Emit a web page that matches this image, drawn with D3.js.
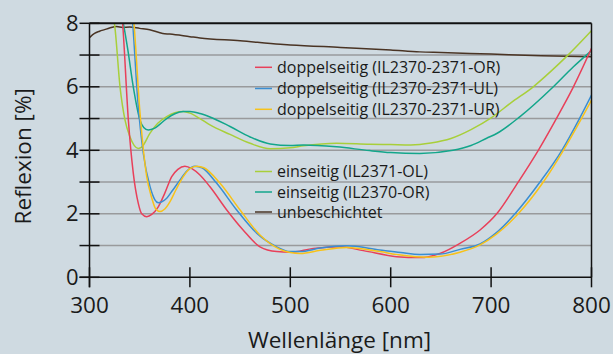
<!DOCTYPE html>
<html lang="de">
<head>
<meta charset="UTF-8">
<title>Reflexion</title>
<script src="https://d3js.org/d3.v7.min.js"></script>
<style>
    html, body { margin: 0; padding: 0; background: #cfdae1; }
    svg text { font-family: "Open Sans", "Noto Sans", sans-serif; fill: #1a1a1a; }
</style>
</head>
<body>
<svg id="chart" width="613" height="354"></svg>
<script>
// wavelength [nm] / reflection [%] pairs
const xTicks = [300, 400, 500, 600, 700, 800];
const yTicks = [0, 2, 4, 6, 8];
const yMinor = [1, 3, 5, 7];

const redNm  = [328, 333, 338.7, 343.6, 348.6, 352, 357, 362, 368.5, 375, 381.9, 388, 395, 402, 410, 420, 436.7, 453, 469.8, 486.5, 499.7, 523, 549.5, 572.7, 606, 629, 649, 669, 689, 705.6, 727, 747, 765, 782, 800];
const redR   = [9.5, 8.0, 4.95, 3.28, 2.33, 2.0, 1.91, 1.98, 2.22, 2.65, 3.17, 3.4, 3.5, 3.42, 3.22, 2.85, 2.12, 1.49, 0.96, 0.81, 0.79, 0.91, 0.96, 0.84, 0.65, 0.62, 0.75, 1.07, 1.49, 2.0, 3.0, 4.0, 5.0, 6.0, 7.21];

const blueNm = [338, 343, 348, 353.6, 360.3, 365, 368.5, 372, 376.9, 383, 390, 397, 405, 412, 426.7, 446.6, 466.5, 486.5, 499.7, 509.7, 530, 556, 589, 610, 629, 649, 669, 689, 705, 723.8, 748.7, 770.5, 788, 800];
const blueR  = [9.5, 8.0, 5.6, 3.9, 2.85, 2.45, 2.35, 2.38, 2.49, 2.75, 3.06, 3.35, 3.5, 3.45, 2.96, 2.12, 1.39, 0.96, 0.81, 0.81, 0.92, 0.99, 0.86, 0.78, 0.72, 0.73, 0.88, 1.05, 1.4, 2.0, 3.0, 4.0, 5.0, 5.74];

const yellowNm = [339, 344.3, 350, 357, 362, 366, 370.2, 375, 380.2, 386, 393.4, 400, 406.8, 414, 430, 450, 469.8, 489.7, 500, 510, 530, 556, 589, 610, 636, 650, 669, 689, 705, 727, 752, 772, 790, 800];
const yellowR  = [9.5, 8.0, 5.3, 3.17, 2.5, 2.15, 2.07, 2.15, 2.38, 2.75, 3.17, 3.42, 3.5, 3.45, 2.96, 2.12, 1.33, 0.88, 0.78, 0.75, 0.85, 0.94, 0.81, 0.7, 0.63, 0.66, 0.79, 1.02, 1.35, 2.0, 3.0, 4.0, 5.0, 5.58];

const greenNm = [318, 322, 325, 330.4, 335.4, 340, 348.6, 352, 360.3, 368, 376.9, 385, 393.4, 400, 410, 420, 440, 460, 480, 500, 513, 546, 579, 600, 620, 640, 660, 680, 700, 720, 742, 760, 775, 800];
const greenR  = [9.0, 8.4, 7.95, 6.0, 4.95, 4.45, 4.06, 4.1, 4.54, 4.85, 5.06, 5.18, 5.22, 5.17, 5.0, 4.8, 4.5, 4.22, 4.05, 4.08, 4.14, 4.22, 4.19, 4.18, 4.17, 4.23, 4.37, 4.65, 5.02, 5.5, 6.0, 6.5, 6.95, 7.77];

const tealNm = [328, 331, 333.7, 338, 343.6, 350.3, 354, 358.6, 365, 376.9, 385, 393.4, 400, 410, 420, 440, 460, 480, 500, 513, 546, 579, 600, 629, 662, 680, 695.6, 705.6, 728.8, 762, 782, 800];
const tealR  = [9.0, 8.4, 8.0, 7.2, 6.0, 4.95, 4.72, 4.64, 4.7, 5.0, 5.15, 5.22, 5.22, 5.16, 5.05, 4.75, 4.42, 4.2, 4.15, 4.17, 4.11, 3.99, 3.93, 3.9, 4.0, 4.15, 4.38, 4.53, 5.06, 6.0, 6.63, 7.14];

const brownNm = [300, 305, 310, 315, 320, 327, 333, 340, 350, 360, 373, 380, 400, 410, 450, 490, 500, 550, 600, 629, 650, 700, 750, 800];
const brownR  = [7.55, 7.68, 7.75, 7.8, 7.85, 7.9, 7.87, 7.88, 7.84, 7.8, 7.68, 7.66, 7.58, 7.54, 7.45, 7.34, 7.32, 7.24, 7.16, 7.1, 7.08, 7.03, 6.98, 6.95];

const seriesNames = [
    "doppelseitig (IL2370-2371-OR)",
    "doppelseitig (IL2370-2371-UL)",
    "doppelseitig (IL2370-2371-UR)",
    "einseitig (IL2371-OL)",
    "einseitig (IL2370-OR)",
    "unbeschichtet"
];
const seriesColors = ["#e8405a", "#3a8ed2", "#f7c21a", "#a8cf3a", "#13a68b", "#4a3424"];
const seriesData = [
    [redNm, redR], [blueNm, blueR], [yellowNm, yellowR],
    [greenNm, greenR], [tealNm, tealR], [brownNm, brownR]
];

const margin = {top: 23.3, right: 21.5, bottom: 76.7, left: 89.5};
const width = 613, height = 354;
const iw = width - margin.left - margin.right;
const ih = height - margin.top - margin.bottom;

const svg = d3.select("#chart");
const g = svg.append("g").attr("transform", `translate(${margin.left},${margin.top})`);

const x = d3.scaleLinear().domain([300, 800]).range([0, iw]);
const y = d3.scaleLinear().domain([0, 8]).range([ih, 0]);

// grid lines
g.selectAll(".grid")
    .data(d3.range(1, 8))
    .join("line")
    .attr("x1", 0).attr("x2", iw)
    .attr("y1", d => y(d)).attr("y2", d => y(d))
    .attr("stroke", "#999a9c").attr("stroke-width", 1.6);

// clip to plot area
svg.append("defs").append("clipPath").attr("id", "plot")
    .append("rect").attr("x", 0).attr("y", 0).attr("width", iw).attr("height", ih);

const line = d3.line()
    .x(d => x(d[0]))
    .y(d => y(d[1]))
    .curve(d3.curveMonotoneX);

const curves = g.append("g").attr("clip-path", "url(#plot)");

// draw brown first, then the coated samples
const order = [5, 3, 4, 0, 1, 2];
order.forEach(i => {
    const [nm, r] = seriesData[i];
    curves.append("path")
        .datum(nm.map((v, k) => [v, r[k]]))
        .attr("d", line)
        .attr("fill", "none")
        .attr("stroke", seriesColors[i])
        .attr("stroke-width", 1.5);
});

// frame: top and right edges
g.append("line").attr("x1", 0).attr("x2", iw).attr("y1", 0).attr("y2", 0)
    .attr("stroke", "#111").attr("stroke-width", 2);
g.append("line").attr("x1", iw).attr("x2", iw).attr("y1", 0).attr("y2", ih)
    .attr("stroke", "#111").attr("stroke-width", 1.5);

// y axis
g.append("line").attr("x1", 0).attr("x2", 0).attr("y1", 0).attr("y2", ih + 10)
    .attr("stroke", "#111").attr("stroke-width", 1.5);
g.selectAll(".ytick")
    .data(yTicks.concat(yMinor))
    .join("line")
    .attr("x1", -10).attr("x2", 10)
    .attr("y1", d => y(d)).attr("y2", d => y(d))
    .attr("stroke", "#111").attr("stroke-width", 1.5);
g.selectAll(".ylab")
    .data(yTicks)
    .join("text")
    .attr("x", -11)
    .attr("y", d => y(d))
    .attr("dy", "0.34em")
    .attr("text-anchor", "end")
    .style("font-size", "22px")
    .text(d => d);

// x axis
g.append("line").attr("x1", -10).attr("x2", iw).attr("y1", ih).attr("y2", ih)
    .attr("stroke", "#111").attr("stroke-width", 1.5);
g.selectAll(".xtick")
    .data(xTicks)
    .join("line")
    .attr("x1", d => x(d)).attr("x2", d => x(d))
    .attr("y1", ih - 10).attr("y2", ih + 10)
    .attr("stroke", "#111").attr("stroke-width", 1.5);
g.selectAll(".xlab")
    .data(xTicks)
    .join("text")
    .attr("x", d => x(d))
    .attr("y", ih + 36)
    .attr("text-anchor", "middle")
    .style("font-size", "22.5px")
    .text(d => d);

// axis titles
svg.append("text")
    .attr("x", margin.left + iw / 2 - 1)
    .attr("y", 348)
    .attr("text-anchor", "middle")
    .style("font-size", "22.5px")
    .text("Wellenlänge [nm]");
svg.append("text")
    .attr("transform", `translate(31,${margin.top + ih / 2 + 6}) rotate(-90)`)
    .attr("text-anchor", "middle")
    .style("font-size", "22.5px")
    .text("Reflexion [%]");

// legend
const legendY = [67.3, 88.5, 109.3, 171.5, 192, 212];
const legend = svg.append("g");
seriesNames.forEach((name, i) => {
    legend.append("line")
        .attr("x1", 255).attr("x2", 272)
        .attr("y1", legendY[i]).attr("y2", legendY[i])
        .attr("stroke", seriesColors[i]).attr("stroke-width", 1.5);
    legend.append("text")
        .attr("x", 277).attr("y", legendY[i])
        .attr("dy", "0.35em")
        .style("font-size", "16px")
        .text(name);
});
</script>
</body>
</html>
